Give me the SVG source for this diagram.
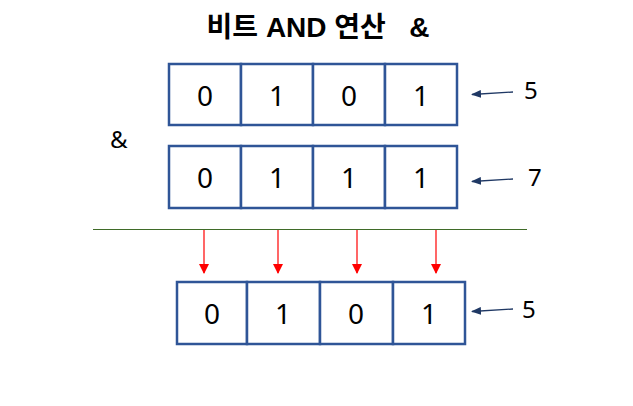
<svg xmlns="http://www.w3.org/2000/svg" width="633" height="406" viewBox="0 0 633 406">
<defs>
<marker id="ab" markerWidth="10" markerHeight="8" refX="9" refY="4" orient="auto" markerUnits="userSpaceOnUse">
<path d="M0,0 L10,4 L0,8 Z" fill="#1F3864"/>
</marker>
<marker id="ar" markerWidth="10" markerHeight="10" refX="5" refY="9" orient="0" markerUnits="userSpaceOnUse">
<path d="M0,0 L10,0 L5,10 Z" fill="#FF0000"/>
</marker>
</defs>
<style>
.cell{fill:#fff;stroke:#2F5597;stroke-width:2.5}
.d{font-family:"Noto Sans","Open Sans",sans-serif;font-size:28px;fill:#000;text-anchor:middle}
.lbl{font-family:"Noto Sans","Open Sans",sans-serif;font-size:24px;fill:#000}
.ba{stroke:#1F3864;stroke-width:1.3;fill:none;marker-end:url(#ab)}
.ra{stroke:#FF0000;stroke-width:1.2;fill:none;marker-end:url(#ar)}
</style>
<rect width="633" height="406" fill="#fff"/>
<text x="318" y="37" text-anchor="middle" font-family="'Liberation Sans','Noto Sans CJK KR',sans-serif" font-size="28" font-weight="bold" xml:space="preserve">비트 AND 연산   &amp;</text>
<text class="lbl" x="110" y="148">&amp;</text>
<g id="row1">
<rect class="cell" x="169" y="64" width="72" height="61"/>
<rect class="cell" x="241" y="64" width="72" height="61"/>
<rect class="cell" x="313" y="64" width="72" height="61"/>
<rect class="cell" x="385" y="64" width="72" height="61"/>
<text class="d" x="205" y="106">0</text>
<text class="d" x="277" y="106">1</text>
<text class="d" x="349" y="106">0</text>
<text class="d" x="421" y="106">1</text>
</g>
<g id="row2">
<rect class="cell" x="169" y="146" width="72" height="62"/>
<rect class="cell" x="241" y="146" width="72" height="62"/>
<rect class="cell" x="313" y="146" width="72" height="62"/>
<rect class="cell" x="385" y="146" width="72" height="62"/>
<text class="d" x="205" y="188">0</text>
<text class="d" x="277" y="188">1</text>
<text class="d" x="349" y="188">1</text>
<text class="d" x="421" y="188">1</text>
</g>
<g id="row3">
<rect class="cell" x="177" y="282" width="70" height="62"/>
<rect class="cell" x="247" y="282" width="73" height="62"/>
<rect class="cell" x="320" y="282" width="73" height="62"/>
<rect class="cell" x="393" y="282" width="72" height="62"/>
<text class="d" x="212" y="324">0</text>
<text class="d" x="283" y="324">1</text>
<text class="d" x="356" y="324">0</text>
<text class="d" x="429" y="324">1</text>
</g>
<g id="labels">
<text class="lbl" x="524" y="99">5</text>
<text class="lbl" x="528" y="186">7</text>
<text class="lbl" x="522" y="318">5</text>
</g>
<g id="connectors">
<line x1="93" y1="229.5" x2="527" y2="229.5" stroke="#3F6B28" stroke-width="1"/>
<line class="ba" x1="513" y1="92" x2="472" y2="94.5"/>
<line class="ba" x1="513" y1="179" x2="472" y2="181.5"/>
<line class="ba" x1="513" y1="309" x2="472" y2="311.5"/>
<line class="ra" x1="204" y1="230" x2="204" y2="273"/>
<line class="ra" x1="278" y1="230" x2="278" y2="273"/>
<line class="ra" x1="357" y1="230" x2="357" y2="273"/>
<line class="ra" x1="436" y1="230" x2="436" y2="273"/>
</g>
</svg>
